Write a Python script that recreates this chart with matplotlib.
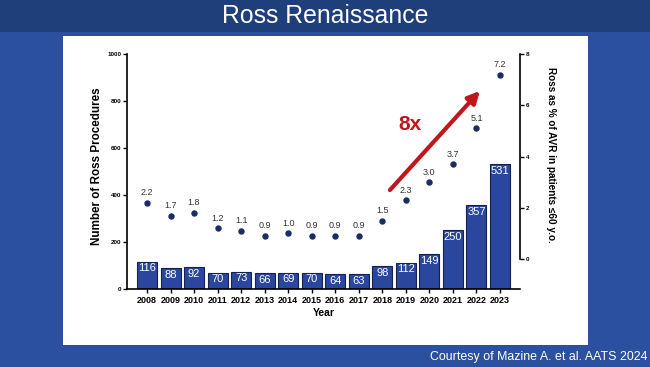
import matplotlib
matplotlib.use("Agg")
import matplotlib.pyplot as plt
from matplotlib.patches import Rectangle

plt.rcParams['font.family'] = ['Liberation Sans', 'DejaVu Sans']

years = [str(y) for y in range(2008, 2024)]
procedures = [116, 88, 92, 70, 73, 66, 69, 70, 64, 63, 98, 112, 149, 250, 357, 531]
ross_pct = [2.2, 1.7, 1.8, 1.2, 1.1, 0.9, 1.0, 0.9, 0.9, 0.9, 1.5, 2.3, 3.0, 3.7, 5.1, 7.2]
left_ticks = [0, 200, 400, 600, 800, 1000]
right_ticks = [0, 2, 4, 6, 8]

W, H = 650, 367
fig = plt.figure(figsize=(6.5, 3.67), dpi=100)
fig.patch.set_facecolor('#2b50a0')

# title bar
fig.patches.append(Rectangle((0, 1 - 32 / H), 1, 32 / H, transform=fig.transFigure,
                             facecolor='#1f3f7a', edgecolor='none', zorder=-10))
# white panel
fig.patches.append(Rectangle((63 / W, (H - 345) / H), 525 / W, 309 / H, transform=fig.transFigure,
                             facecolor='white', edgecolor='none', zorder=-10))

fig.text(0.5, 1 - 16 / H, 'Ross Renaissance', color='white', fontsize=17.8,
         ha='center', va='center')
fig.text(647 / W, 1 - 357 / H, 'Courtesy of Mazine A. et al. AATS 2024', color='white',
         fontsize=8.9, ha='right', va='center')

ax = fig.add_axes([127 / W, (H - 289) / H, 393 / W, 235 / H])
ax.set_facecolor('none')
x = list(range(len(years)))
bars = ax.bar(x, procedures, width=0.85, color='#2a469e', edgecolor='#15224f', linewidth=0.8, zorder=2)
for xi, v in zip(x, procedures):
    ax.text(xi, v - 7, str(v), color='white', fontsize=8, ha='center', va='top', zorder=3)

ax.set_xlim(-0.85, 15.85)
ax.set_ylim(0, 1000)
ax.set_xticks(x)
ax.set_xticklabels(years, fontsize=6.5, fontweight='bold')
ax.set_yticks(left_ticks)
ax.set_yticklabels([str(t) for t in left_ticks], fontsize=4.5, fontweight='bold')
for s in ['top', 'right']:
    ax.spines[s].set_visible(False)
ax.spines['left'].set_linewidth(1.2)
ax.spines['bottom'].set_linewidth(1.2)
ax.tick_params(axis='y', length=3, width=1, pad=1)
ax.tick_params(axis='x', length=3, width=1, pad=2)
ax.set_xlabel('Year', fontsize=7.5, fontweight='bold', labelpad=2)
fig.text(97 / W, 1 - 166 / H, 'Number of Ross Procedures', rotation=90,
         fontsize=8.4, fontweight='bold', ha='center', va='center')

ax2 = ax.twinx()
ax2.set_ylim(-1.165, 7.96)
ax2.scatter(x, ross_pct, s=13, color='#1c2d66', zorder=4)
for xi, v in zip(x, ross_pct):
    ax2.text(xi, v + 0.22, f'{v:.1f}', color='#333333', fontsize=6.5, ha='center', va='bottom')
for s in ['top', 'left', 'bottom']:
    ax2.spines[s].set_visible(False)
ax2.spines['right'].set_bounds(0, 8)
ax2.spines['right'].set_linewidth(1.2)
ax2.set_yticks(right_ticks)
ax2.set_yticklabels([str(t) for t in right_ticks], fontsize=4.5, fontweight='bold')
ax2.tick_params(axis='y', length=3, width=1, pad=1)
fig.text(551 / W, 1 - 155 / H, 'Ross as % of AVR in patients \u226460 y.o.', rotation=-90,
         fontsize=7.2, fontweight='bold', ha='center', va='center')

ax2.annotate('', xy=(0.898, 0.843), xytext=(0.669, 0.421), xycoords='axes fraction',
             textcoords='axes fraction',
             arrowprops=dict(arrowstyle='-|>,head_length=0.7,head_width=0.35', color='#c0161c',
                             lw=3, shrinkA=0, shrinkB=0), zorder=5)
ax2.text(0.72, 0.70, '8x', transform=ax.transAxes, color='#c0161c', fontsize=15,
         fontweight='bold', ha='center', va='center')

fig.savefig('out.png', dpi=100, facecolor=fig.get_facecolor())
